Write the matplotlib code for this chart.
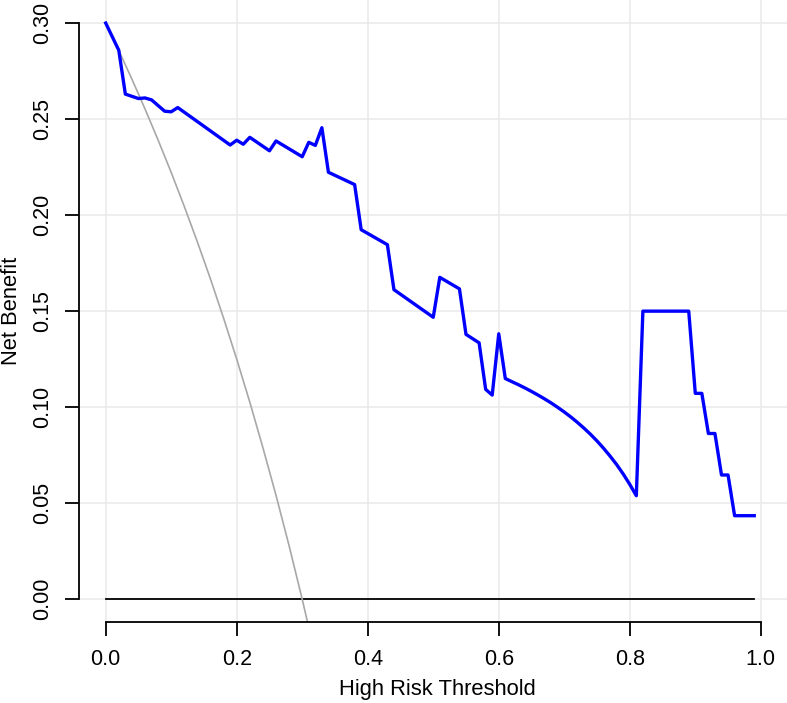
import numpy as np
import matplotlib.pyplot as plt

plt.rcParams['font.family'] = ['Liberation Sans', 'DejaVu Sans']

# --- Data ---
# model curve (blue)
thresholds = [0.00, 0.02, 0.03, 0.05, 0.06, 0.07, 0.09, 0.10, 0.11, 0.19,
              0.20, 0.21, 0.22, 0.25, 0.26, 0.30, 0.31, 0.32, 0.33, 0.34,
              0.38, 0.39, 0.43, 0.44, 0.50, 0.51, 0.54, 0.55, 0.57, 0.58,
              0.59, 0.60, 0.61, 0.62, 0.63, 0.64, 0.65, 0.66, 0.67, 0.68,
              0.69, 0.70, 0.71, 0.72, 0.73, 0.74, 0.75, 0.76, 0.77, 0.78,
              0.79, 0.80, 0.81, 0.82, 0.89, 0.90, 0.91, 0.92, 0.93, 0.94,
              0.95, 0.96, 0.99]
net_benefit = [0.300, 0.2858, 0.263, 0.2607, 0.261, 0.260, 0.2541, 0.2538, 0.256, 0.2365,
               0.239, 0.2369, 0.2405, 0.2335, 0.2386, 0.2304, 0.2379, 0.2363, 0.2455, 0.2223,
               0.2159, 0.1924, 0.1846, 0.1612, 0.1468, 0.1676, 0.1616, 0.1379, 0.1335, 0.1093,
               0.1063, 0.1382, 0.1149, 0.1133, 0.1117, 0.1100, 0.1082, 0.1063, 0.1043, 0.1022,
               0.0999, 0.0975, 0.0949, 0.0921, 0.0891, 0.0859, 0.0824, 0.0786, 0.0745, 0.0701,
               0.0652, 0.0598, 0.0539, 0.150, 0.150, 0.1072, 0.1072, 0.0863, 0.0863, 0.0647,
               0.0647, 0.0435, 0.0435]

# treat all (grey)
all_thresholds = [0.00, 0.02, 0.04, 0.06, 0.08, 0.10, 0.12, 0.14, 0.16, 0.18,
                  0.20, 0.22, 0.24, 0.26, 0.28, 0.30, 0.32]
all_net_benefit = [0.300, 0.2857, 0.2708, 0.2553, 0.2391, 0.2222, 0.2045, 0.1860, 0.1667, 0.1463,
                   0.125, 0.1026, 0.0789, 0.0541, 0.0278, 0.000, -0.0294]

# treat none (black)
none_thresholds = [0.00, 0.99]
none_net_benefit = [0.0, 0.0]

x_ticks = [0.0, 0.2, 0.4, 0.6, 0.8, 1.0]
y_ticks = [0.00, 0.05, 0.10, 0.15, 0.20, 0.25, 0.30]

# --- Plotting ---
fig = plt.figure(figsize=(7.87, 7.03), dpi=100)
ax = fig.add_axes([0.101, 0.1148, 0.899, 0.8852])

ax.set_xlim(-0.04, 1.04)
ax.set_ylim(-0.012, 0.312)

ax.set_xticks(x_ticks)
ax.set_yticks(y_ticks)
ax.set_xticklabels([f'{v:.1f}' for v in x_ticks])
ax.set_yticklabels([f'{v:.2f}' for v in y_ticks])
ax.grid(True, color='#EAEAEA', linewidth=1.1)
ax.set_axisbelow(True)

ax.plot(none_thresholds, none_net_benefit, color='black', linewidth=1.3)
ax.plot(all_thresholds, all_net_benefit, color='#A8A8A8', linewidth=1.2)
ax.plot(thresholds, net_benefit, color='#0000FF', linewidth=2.4)

for side in ['top', 'right']:
    ax.spines[side].set_visible(False)
ax.spines['left'].set_bounds(0, 0.30)
ax.spines['bottom'].set_bounds(0, 1.0)
ax.spines['left'].set_linewidth(1.3)
ax.spines['bottom'].set_linewidth(1.3)

ax.tick_params(axis='both', length=10, width=1.3, pad=9, labelsize=15.5, colors='black')
ax.tick_params(axis='y', labelrotation=90)
for lbl in ax.get_yticklabels():
    lbl.set_va('center')

ax.set_xlabel('High Risk Threshold', fontsize=15.8)
ax.set_ylabel('Net Benefit', fontsize=15.8)
ax.xaxis.set_label_coords(0.506, -0.091)
ax.yaxis.set_label_coords(-0.081, 0.5)

fig.savefig('out.png', dpi=100)
